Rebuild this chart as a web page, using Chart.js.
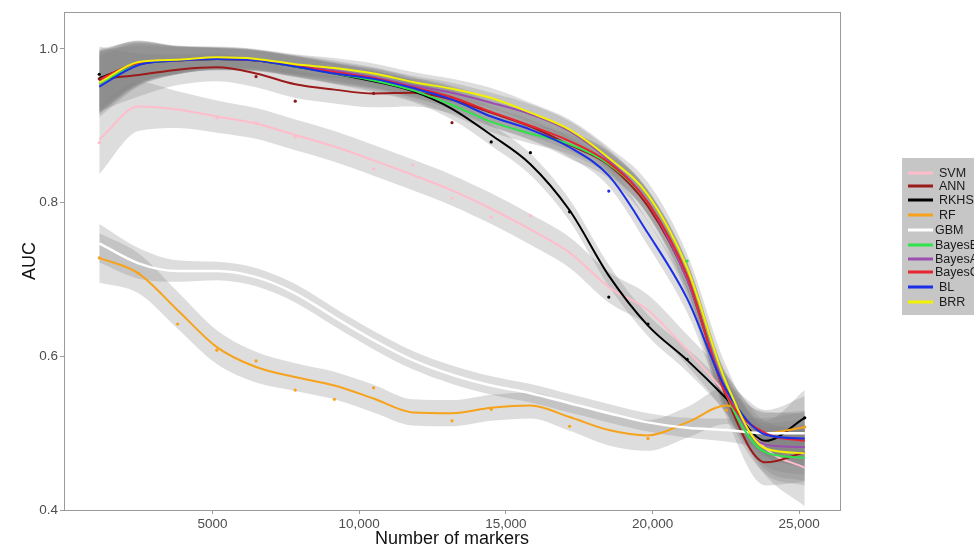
<!DOCTYPE html>
<html>
<head>
<meta charset="utf-8">
<script src="https://cdn.jsdelivr.net/npm/chart.js@4.4.1/dist/chart.umd.min.js"></script>
<style>
  html, body { margin: 0; padding: 0; background: #fff; }
  #wrap { width: 974px; height: 550px; position: relative; }
</style>
</head>
<body>
<div id="wrap"><canvas id="aucChart" width="974" height="550"></canvas></div>
<script>
// number of markers at each evaluation point
const markers = [1140, 2476, 3812, 5148, 6484, 7820, 9156, 10492, 11828, 13164, 14500, 15836, 17172, 18508, 19844, 21180, 22516, 23852, 25188];
const xTicks = [5000, 10000, 15000, 20000, 25000];
const yTicks = [0.4, 0.6, 0.8, 1.0];

const names = ['SVM', 'ANN', 'RKHS', 'RF', 'GBM', 'BayesB', 'BayesA', 'BayesC', 'BL', 'BRR'];
const colors = ['#ffbccb', '#9b1b1b', '#000000', '#f7a21b', '#ffffff', '#2fe34a', '#9b4fb0', '#e8242e', '#1a2fe6', '#f2f200'];

// smoothed AUC curves
const svm    = [0.882, 0.925, 0.921, 0.912, 0.903, 0.888, 0.873, 0.855, 0.836, 0.816, 0.792, 0.765, 0.735, 0.690, 0.660, 0.608, 0.550, 0.480, 0.455];
const ann    = [0.961, 0.966, 0.973, 0.976, 0.968, 0.954, 0.947, 0.942, 0.943, 0.934, 0.917, 0.899, 0.875, 0.849, 0.795, 0.700, 0.547, 0.462, 0.475];
const rkhs   = [0.962, 0.980, 0.985, 0.987, 0.985, 0.977, 0.968, 0.958, 0.945, 0.922, 0.888, 0.850, 0.790, 0.705, 0.640, 0.595, 0.545, 0.490, 0.520];
const rf     = [0.728, 0.708, 0.660, 0.612, 0.586, 0.573, 0.562, 0.545, 0.527, 0.526, 0.533, 0.536, 0.521, 0.504, 0.497, 0.514, 0.536, 0.500, 0.508];
const gbm    = [0.747, 0.721, 0.711, 0.711, 0.703, 0.682, 0.651, 0.621, 0.595, 0.576, 0.562, 0.552, 0.539, 0.526, 0.514, 0.507, 0.504, 0.500, 0.500];
const bayesB = [0.955, 0.980, 0.985, 0.987, 0.985, 0.977, 0.968, 0.959, 0.946, 0.927, 0.905, 0.890, 0.876, 0.850, 0.800, 0.705, 0.550, 0.475, 0.468];
const bayesA = [0.958, 0.982, 0.986, 0.988, 0.986, 0.979, 0.972, 0.963, 0.952, 0.943, 0.930, 0.915, 0.893, 0.855, 0.800, 0.700, 0.555, 0.485, 0.482];
const bayesC = [0.960, 0.982, 0.985, 0.987, 0.985, 0.978, 0.970, 0.962, 0.950, 0.937, 0.918, 0.900, 0.880, 0.852, 0.800, 0.705, 0.550, 0.500, 0.490];
const bl     = [0.951, 0.979, 0.985, 0.987, 0.985, 0.977, 0.968, 0.961, 0.949, 0.934, 0.912, 0.895, 0.872, 0.835, 0.760, 0.675, 0.556, 0.498, 0.493];
const brr    = [0.956, 0.983, 0.986, 0.989, 0.987, 0.980, 0.975, 0.968, 0.957, 0.948, 0.936, 0.917, 0.895, 0.858, 0.810, 0.715, 0.565, 0.480, 0.474];

// half widths of the confidence ribbons
const bandBayes = [0.040, 0.028, 0.018, 0.014, 0.013, 0.013, 0.013, 0.013, 0.013, 0.013, 0.013, 0.013, 0.013, 0.014, 0.016, 0.018, 0.022, 0.028, 0.036];
const bandAnn   = [0.042, 0.028, 0.020, 0.018, 0.018, 0.018, 0.018, 0.018, 0.018, 0.018, 0.018, 0.018, 0.018, 0.018, 0.020, 0.022, 0.026, 0.030, 0.038];
const bandRkhs  = [0.036, 0.024, 0.017, 0.015, 0.014, 0.014, 0.014, 0.014, 0.014, 0.014, 0.014, 0.014, 0.014, 0.014, 0.014, 0.015, 0.018, 0.026, 0.036];
const bandSvm   = [0.045, 0.032, 0.024, 0.021, 0.020, 0.020, 0.020, 0.020, 0.020, 0.020, 0.020, 0.020, 0.020, 0.020, 0.020, 0.020, 0.025, 0.035, 0.050];
const bandGbm   = [0.025, 0.020, 0.014, 0.012, 0.012, 0.012, 0.012, 0.012, 0.012, 0.012, 0.012, 0.012, 0.012, 0.012, 0.012, 0.013, 0.015, 0.020, 0.028];
const bandRf    = [0.032, 0.026, 0.024, 0.022, 0.020, 0.018, 0.018, 0.018, 0.017, 0.017, 0.017, 0.017, 0.018, 0.020, 0.020, 0.020, 0.024, 0.030, 0.040];

// raw points that can be made out in the picture (null = hidden)
const svmDots  = [0.878, null, null, 0.910, 0.904, 0.885, null, 0.844, 0.849, 0.806, 0.781, 0.783, null, null, null, null, null, null, null];
const annDots  = [0.961, null, null, null, 0.964, 0.932, null, 0.942, null, 0.904, null, null, null, null, null, null, null, null, null];
const rkhsDots = [0.967, null, null, null, null, null, null, null, null, null, 0.879, 0.865, 0.788, 0.677, 0.642, 0.596, null, null, 0.520];
const rfDots   = [0.728, 0.708, 0.642, 0.608, 0.594, 0.556, 0.544, 0.559, null, 0.516, 0.531, null, 0.509, null, 0.493, null, 0.530, null, 0.508];
const bayesBDots = [null, null, null, null, null, null, null, null, null, null, null, null, null, null, null, 0.724, null, null, null];
const blDots   = [null, null, null, null, null, null, null, null, null, null, null, null, null, 0.815, null, null, null, null, null];

const curves = [svm, ann, rkhs, rf, gbm, bayesB, bayesA, bayesC, bl, brr];
const bands = [bandSvm, bandAnn, bandRkhs, bandRf, bandGbm, bandBayes, bandBayes, bandBayes, bandBayes, bandBayes];
const dots = [svmDots, annDots, rkhsDots, rfDots, null, bayesBDots, null, null, blDots, null];

const pts = (arr) => arr.map((v, i) => ({ x: markers[i], y: v })).filter(p => p.y !== null);

const datasets = [];
curves.forEach((c, i) => {
  const lo = c.map((v, j) => v - bands[i][j]);
  const hi = c.map((v, j) => v + bands[i][j]);
  datasets.push({
    label: names[i] + ' lo', data: pts(lo), borderWidth: 0, pointRadius: 0,
    fill: false, cubicInterpolationMode: 'monotone', order: 100 - i
  });
  datasets.push({
    label: names[i] + ' hi', data: pts(hi), borderWidth: 0, pointRadius: 0,
    fill: '-1', backgroundColor: 'rgba(128,128,128,0.27)',
    cubicInterpolationMode: 'monotone', order: 100 - i
  });
});
curves.forEach((c, i) => {
  datasets.push({
    label: names[i], data: pts(c), borderColor: colors[i],
    borderWidth: i === 4 ? 2.5 : 2, pointRadius: 0, fill: false,
    cubicInterpolationMode: 'monotone', order: 50 - i
  });
});
dots.forEach((d, i) => {
  if (!d) return;
  datasets.push({
    label: names[i] + ' pts', data: pts(d), showLine: false,
    pointRadius: 1.6, pointBorderWidth: 0,
    pointBackgroundColor: i === 1 ? '#8b1a1a' : colors[i], order: 10
  });
});

// panel border + ggplot-like legend box
const decor = {
  id: 'decor',
  afterDraw(chart) {
    const { ctx, chartArea: a } = chart;
    ctx.save();
    ctx.strokeStyle = '#9a9a9a';
    ctx.lineWidth = 1;
    ctx.strokeRect(a.left + 0.5, a.top + 0.5, a.right - a.left, a.bottom - a.top);

    ctx.fillStyle = '#c6c6c6';
    ctx.fillRect(902, 158, 80, 157);
    const ys = [173, 186, 200, 215, 230, 245, 259, 272, 287, 302];
    ctx.font = '12.5px "Liberation Sans", Arial, sans-serif';
    ctx.textBaseline = 'middle';
    names.forEach((n, i) => {
      ctx.strokeStyle = colors[i];
      ctx.lineWidth = 3;
      ctx.beginPath();
      ctx.moveTo(908, ys[i]);
      ctx.lineTo(933, ys[i]);
      ctx.stroke();
      ctx.fillStyle = '#1a1a1a';
      ctx.fillText(n, i === 4 || i >= 5 && i <= 7 ? 935 : 939, ys[i] + 1);
    });
    ctx.restore();
  }
};

new Chart(document.getElementById('aucChart'), {
  type: 'line',
  data: { datasets },
  options: {
    responsive: false,
    animation: false,
    layout: { padding: { left: 0, right: 134, top: 12, bottom: 0 } },
    plugins: { legend: { display: false }, tooltip: { enabled: false } },
    scales: {
      x: {
        type: 'linear', min: -62, max: 26390,
        afterBuildTicks: (s) => { s.ticks = xTicks.map(v => ({ value: v })); },
        afterFit: (s) => { s.height = 40; },
        ticks: {
          color: '#4d4d4d', padding: 2,
          font: { family: '"Liberation Sans", Arial, sans-serif', size: 13.5 },
          callback: (v) => v === 5000 ? '5000' : v.toLocaleString('en-US')
        },
        grid: { drawOnChartArea: false, drawTicks: true, tickLength: 4, tickColor: '#9a9a9a' },
        border: { display: false },
        title: {
          display: true, text: 'Number of markers', color: '#111',
          font: { family: '"Liberation Sans", Arial, sans-serif', size: 18 },
          padding: { top: 0, bottom: 0 }
        }
      },
      y: {
        min: 0.4, max: 1.048,
        afterBuildTicks: (s) => { s.ticks = yTicks.map(v => ({ value: v })); },
        afterFit: (s) => { s.width = 64; },
        ticks: {
          color: '#4d4d4d', padding: 2,
          font: { family: '"Liberation Sans", Arial, sans-serif', size: 13.5 },
          callback: (v) => Number(v).toFixed(1)
        },
        grid: { drawOnChartArea: false, drawTicks: true, tickLength: 4, tickColor: '#9a9a9a' },
        border: { display: false },
        title: {
          display: true, text: 'AUC', color: '#111',
          font: { family: '"Liberation Sans", Arial, sans-serif', size: 18 },
          padding: { top: 19, bottom: 0 }
        }
      }
    }
  },
  plugins: [decor]
});
</script>
</body>
</html>
